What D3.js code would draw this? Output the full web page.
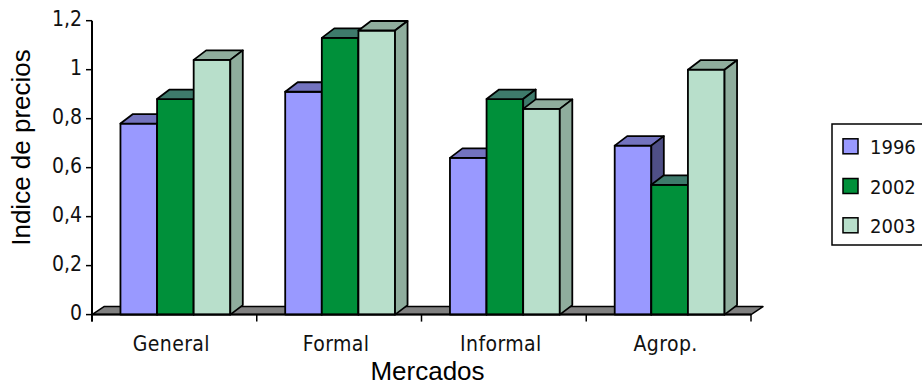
<!DOCTYPE html>
<html>
<head>
<meta charset="utf-8">
<script src="https://cdn.jsdelivr.net/npm/d3@7"></script>
<style>
  html, body { margin: 0; padding: 0; background: #fff; }
  svg { display: block; }
  .tick-label { font-family: "DejaVu Sans Condensed", "DejaVu Sans", sans-serif; font-stretch: condensed; fill: #111; }
  .title { font-family: "Liberation Sans", Arial, sans-serif; fill: #000; }
</style>
</head>
<body>
<svg id="chart" width="922" height="386"></svg>
<script>
// Price index by market, three years
const categories = ["General", "Formal", "Informal", "Agrop."];
const seriesNames = ["1996", "2002", "2003"];
const values1996 = [0.78, 0.91, 0.64, 0.69];
const values2002 = [0.88, 1.13, 0.88, 0.53];
const values2003 = [1.04, 1.16, 0.84, 1.00];
const yTickValues = [0, 0.2, 0.4, 0.6, 0.8, 1, 1.2];

const seriesValues = [values1996, values2002, values2003];
const seriesColors = [
  { front: "#9999FF", top: "#7373BF", side: "#4F4F86" },
  { front: "#00903A", top: "#3E7A6B", side: "#3E7A6B" },
  { front: "#B8DFCB", top: "#8FAD9D", side: "#8FAD9D" }
];

const svg = d3.select("#chart");
const plotLeft = 92, plotRight = 751, plotBottom = 314.6, plotTop = 20.7;
const depthX = 12.5, depthY = -9.5;   // oblique depth of each column
const floorDX = 12, floorDY = -8;     // depth of the floor slab

const x = d3.scaleBand().domain(categories).range([plotLeft, plotRight]);
const y = d3.scaleLinear().domain([0, 1.2]).range([plotBottom, plotTop]);
const barW = x.bandwidth() / 4.5;     // gap width 150%
const xs = d3.scaleBand().domain(seriesNames).range([0, 3 * barW]);
const groupOffset = (x.bandwidth() - 3 * barW) / 2 + 1;

const stroke = "#000", sw = 1.8;

// floor
svg.append("polygon")
  .attr("points", [
    [plotLeft, plotBottom], [plotRight, plotBottom],
    [plotRight + floorDX, plotBottom + floorDY], [plotLeft + floorDX, plotBottom + floorDY]
  ].map(p => p.join(",")).join(" "))
  .attr("fill", "#808080").attr("stroke", stroke).attr("stroke-width", 1.5)
  .attr("stroke-linejoin", "round");

// columns, painted left to right so each one covers its neighbour's side face
const bars = svg.append("g");
categories.forEach((cat, ci) => {
  seriesNames.forEach((s, si) => {
    const v = seriesValues[si][ci];
    const c = seriesColors[si];
    const xl = x(cat) + groupOffset + xs(s);
    const xr = xl + xs.bandwidth();
    const yt = y(v), yb = y(0);
    const g = bars.append("g")
      .attr("stroke", stroke).attr("stroke-width", sw).attr("stroke-linejoin", "round");
    g.append("polygon")
      .attr("points", [[xl, yb], [xl, yt], [xr, yt], [xr, yb]].map(p => p.join(",")).join(" "))
      .attr("fill", c.front);
    g.append("polygon")
      .attr("points", [[xl, yt], [xl + depthX, yt + depthY], [xr + depthX, yt + depthY], [xr, yt]].map(p => p.join(",")).join(" "))
      .attr("fill", c.top);
    g.append("polygon")
      .attr("points", [[xr, yt], [xr + depthX, yt + depthY], [xr + depthX, yb + depthY], [xr, yb]].map(p => p.join(",")).join(" "))
      .attr("fill", c.side);
  });
});

// value axis
const yAxis = svg.append("g");
yAxis.append("line")
  .attr("x1", plotLeft).attr("x2", plotLeft)
  .attr("y1", plotTop).attr("y2", plotBottom + 7)
  .attr("stroke", stroke).attr("stroke-width", 2);
yTickValues.forEach(t => {
  yAxis.append("line")
    .attr("x1", plotLeft - 6).attr("x2", plotLeft)
    .attr("y1", y(t)).attr("y2", y(t))
    .attr("stroke", stroke).attr("stroke-width", 1.5);
  yAxis.append("text")
    .attr("class", "tick-label")
    .attr("x", plotLeft - 10).attr("y", y(t) + 5)
    .attr("text-anchor", "end")
    .attr("font-size", 21)
    .text(d3.format(".1~f")(t).replace(".", ","));
});

// category axis
const xAxis = svg.append("g");
xAxis.append("line")
  .attr("x1", plotLeft).attr("x2", plotRight)
  .attr("y1", plotBottom).attr("y2", plotBottom)
  .attr("stroke", stroke).attr("stroke-width", 2);
const boundaries = categories.map(c => x(c)).concat([plotRight]);
boundaries.forEach(b => {
  xAxis.append("line")
    .attr("x1", b).attr("x2", b)
    .attr("y1", plotBottom).attr("y2", plotBottom + 7)
    .attr("stroke", stroke).attr("stroke-width", 1.5);
});
categories.forEach(c => {
  xAxis.append("text")
    .attr("class", "tick-label")
    .attr("x", x(c) + x.bandwidth() / 2 - 3)
    .attr("y", 351)
    .attr("text-anchor", "middle")
    .attr("font-size", 21)
    .attr("letter-spacing", 0.4)
    .text(c);
});

// axis titles
svg.append("text").attr("class", "title")
  .attr("x", 427.5).attr("y", 380)
  .attr("text-anchor", "middle").attr("font-size", 26)
  .text("Mercados");
svg.append("text").attr("class", "title")
  .attr("transform", "translate(30,147.5) rotate(-90)")
  .attr("text-anchor", "middle").attr("font-size", 26)
  .text("Indice de precios");

// legend
const legend = svg.append("g");
legend.append("rect")
  .attr("x", 832).attr("y", 124).attr("width", 120).attr("height", 121)
  .attr("fill", "#fff").attr("stroke", stroke).attr("stroke-width", 1.5);
const legendRowY = [146.3, 186, 225.3];
seriesNames.forEach((s, i) => {
  legend.append("rect")
    .attr("x", 843).attr("y", legendRowY[i] - 7.5)
    .attr("width", 15).attr("height", 15)
    .attr("fill", seriesColors[i].front)
    .attr("stroke", stroke).attr("stroke-width", 1.5);
  legend.append("text")
    .attr("class", "tick-label")
    .attr("x", 870).attr("y", legendRowY[i] + 7.8)
    .attr("font-size", 20)
    .text(s);
});
</script>
</body>
</html>
